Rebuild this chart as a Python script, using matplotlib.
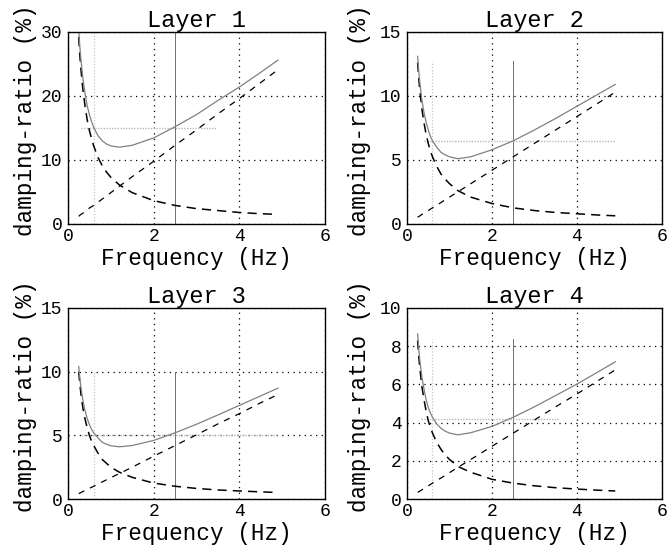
import matplotlib
matplotlib.use("Agg")
import matplotlib.pyplot as plt

# Sampled frequencies (Hz) shared by all damping curves
freq = [0.25, 0.275, 0.3, 0.35, 0.4, 0.45, 0.5, 0.55, 0.6, 0.7, 0.8, 0.9, 1.0,
        1.2, 1.5, 2.0, 2.5, 3.0, 3.5, 4.0, 4.5, 4.9]

# Mass-proportional damping component (%)
mass_1 = [29.2, 26.5, 24.3, 20.9, 18.3, 16.2, 14.6, 13.3, 12.2, 10.4, 9.1, 8.1, 7.3,
          6.1, 4.9, 3.65, 2.9, 2.4, 2.1, 1.8, 1.6, 1.5]
mass_2 = [12.6, 11.45, 10.5, 9.0, 7.9, 7.0, 6.3, 5.7, 5.25, 4.5, 3.9, 3.5, 3.15,
          2.6, 2.1, 1.6, 1.26, 1.05, 0.9, 0.8, 0.7, 0.64]
mass_3 = [10.0, 9.1, 8.3, 7.1, 6.25, 5.55, 5.0, 4.55, 4.2, 3.6, 3.1, 2.8, 2.5,
          2.1, 1.7, 1.25, 1.0, 0.83, 0.71, 0.63, 0.56, 0.51]
mass_4 = [8.3, 7.5, 6.9, 5.9, 5.2, 4.6, 4.1, 3.76, 3.45, 2.96, 2.6, 2.3, 2.07,
          1.7, 1.4, 1.03, 0.83, 0.69, 0.59, 0.52, 0.46, 0.42]

# Stiffness-proportional damping component (%)
stiff_1 = [1.2, 1.35, 1.5, 1.7, 2.0, 2.2, 2.5, 2.7, 2.9, 3.4, 3.9, 4.4, 4.9,
           5.9, 7.4, 9.8, 12.3, 14.7, 17.2, 19.6, 22.1, 24.1]
stiff_2 = [0.53, 0.58, 0.63, 0.74, 0.84, 0.95, 1.05, 1.16, 1.26, 1.47, 1.68, 1.89, 2.1,
           2.52, 3.15, 4.2, 5.25, 6.3, 7.35, 8.4, 9.45, 10.3]
stiff_3 = [0.42, 0.46, 0.5, 0.59, 0.67, 0.76, 0.84, 0.92, 1.0, 1.18, 1.34, 1.51, 1.68,
           2.0, 2.5, 3.36, 4.2, 5.04, 5.9, 6.7, 7.56, 8.2]
stiff_4 = [0.35, 0.38, 0.41, 0.48, 0.55, 0.62, 0.69, 0.76, 0.83, 0.97, 1.1, 1.24, 1.38,
           1.66, 2.07, 2.76, 3.45, 4.14, 4.83, 5.5, 6.2, 6.76]

# Total Rayleigh damping (%)
total_1 = [30.4, 27.85, 25.8, 22.6, 20.3, 18.4, 17.1, 16.0, 15.1, 13.8, 13.0, 12.5, 12.2,
           12.0, 12.3, 13.45, 15.2, 17.1, 19.3, 21.4, 23.7, 25.6]
total_2 = [13.1, 12.0, 11.1, 9.7, 8.7, 7.95, 7.35, 6.85, 6.5, 6.0, 5.6, 5.4, 5.25,
           5.1, 5.25, 5.8, 6.5, 7.35, 8.25, 9.2, 10.15, 10.9]
total_3 = [10.4, 9.55, 8.8, 7.7, 6.9, 6.3, 5.84, 5.47, 5.2, 4.8, 4.45, 4.3, 4.18,
           4.1, 4.2, 4.6, 5.2, 5.87, 6.6, 7.35, 8.1, 8.7]
total_4 = [8.65, 7.9, 7.3, 6.4, 5.75, 5.2, 4.8, 4.5, 4.28, 3.93, 3.7, 3.55, 3.45,
           3.36, 3.47, 3.8, 4.28, 4.83, 5.42, 6.02, 6.66, 7.18]

# Target damping per layer and its frequency span
target = [15, 6.5, 5, 4.2]
target_f0 = [0.31, 0.41, 0.3, 0.33]
target_f1 = [3.47, 4.9, 4.9, 3.6]

# Control frequencies (Hz) and the height of their markers (%)
control_f = [0.6, 2.5]
marker_top = [30, 12.7, 10, 8.4]

titles = ["Layer 1", "Layer 2", "Layer 3", "Layer 4"]
ymax = [30, 15, 15, 10]
ystep = [10, 5, 5, 2]
xticks = [0, 2, 4, 6]

masses = [mass_1, mass_2, mass_3, mass_4]
stiffs = [stiff_1, stiff_2, stiff_3, stiff_4]
totals = [total_1, total_2, total_3, total_4]

W, H = 668, 552
fig = plt.figure(figsize=(W / 100, H / 100), dpi=100)
plt.rcParams['font.family'] = ['Liberation Mono', 'DejaVu Sans Mono']

# panel boxes in pixels: left, right, top, bottom, and the x of the y-label's right edge
boxes = [(68, 325, 32, 224, 37), (407, 662, 32, 224, 371),
         (68, 325, 308, 499, 37), (407, 662, 308, 499, 371)]

for i in range(4):
    l, r, t, b, lab_x = boxes[i]
    ax = fig.add_axes([l / W, 1 - b / H, (r - l) / W, (b - t) / H])
    ax.set_xlim(0, 6)
    ax.set_ylim(0, ymax[i])
    ax.set_xticks(xticks)
    ax.set_yticks(list(range(0, ymax[i] + 1, ystep[i])))
    ax.grid(True, color='black', linestyle=(0, (1, 3.5)), linewidth=0.9)
    ax.set_axisbelow(True)

    # control-frequency markers
    ax.plot([control_f[0]] * 2, [0, marker_top[i]], color='#c4c4c4',
            linestyle=(0, (1, 1.5)), linewidth=0.9)
    ax.plot([control_f[1]] * 2, [0, marker_top[i]], color='#707070',
            linestyle='-', linewidth=0.7)
    # target damping
    ax.plot([target_f0[i], target_f1[i]], [target[i]] * 2, color='#b8b8b8',
            linestyle=(0, (1, 1)), linewidth=1.0)

    ax.plot(freq, masses[i], color='black', linestyle=(0, (6, 4)), linewidth=1.1)
    ax.plot(freq, stiffs[i], color='black', linestyle=(0, (5, 5)), linewidth=0.9)
    ax.plot(freq, totals[i], color='#808080', linestyle='-', linewidth=0.9)

    for s in ax.spines.values():
        s.set_linewidth(1.0)
        s.set_color('black')
    ax.tick_params(axis='both', length=0, labelsize=13)
    ax.tick_params(axis='x', pad=3)
    ax.tick_params(axis='y', pad=4)
    ax.set_title(titles[i], fontsize=17, pad=2)
    ax.set_xlabel("Frequency (Hz)", fontsize=16.3, labelpad=1)
    ax.set_ylabel("damping-ratio (%)", fontsize=16.3)
    ax.yaxis.set_label_coords((lab_x - l) / (r - l), 0.54)

fig.savefig("out.png", dpi=100, facecolor='white')
